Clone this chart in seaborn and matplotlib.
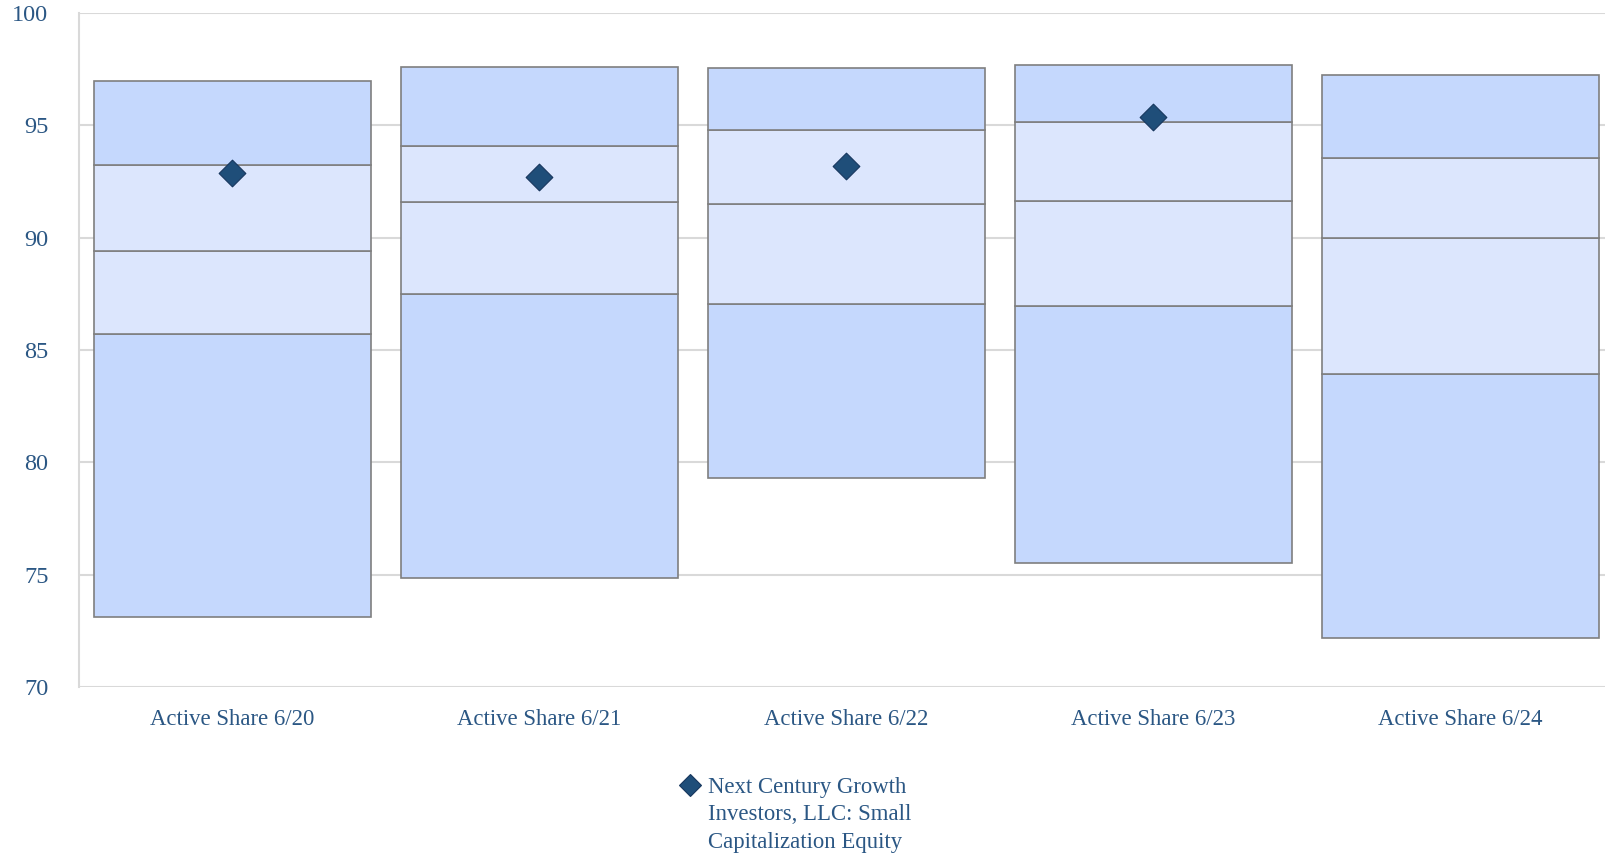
import numpy as np
import pandas as pd
import matplotlib
matplotlib.use("Agg")
import matplotlib.pyplot as plt
import seaborn as sns
from matplotlib.lines import Line2D
from matplotlib.ticker import FixedLocator

# ---- data ----
categories = ["Active Share 6/20", "Active Share 6/21", "Active Share 6/22",
              "Active Share 6/23", "Active Share 6/24"]
range_low = [73.1, 74.86, 79.32, 75.5, 72.2]
quart_25 = [85.73, 87.49, 87.03, 86.98, 83.95]
median = [89.41, 91.59, 91.5, 91.65, 89.98]
quart_75 = [93.23, 94.1, 94.79, 95.15, 93.56]
range_high = [96.97, 97.61, 97.57, 97.67, 97.25]
fund_values = [92.87, 92.69, 93.19, 95.38, np.nan]
legend_label = "Next Century Growth\nInvestors, LLC: Small\nCapitalization Equity"
yticks = [70, 75, 80, 85, 90, 95, 100]

# ---- style ----
sns.set_theme(style="white")
plt.rcParams["font.family"] = ["Liberation Serif", "DejaVu Serif"]
text_color = "#2B5784"
outer_fill = "#C5D8FD"
inner_fill = "#DCE6FD"
edge_col = "#7F7F7F"
grid_col = "#D9D9D9"
diamond_fill = "#1F4E79"
diamond_edge = "#17375E"

W, H = 1606, 856
fig = plt.figure(figsize=(W / 100, H / 100), dpi=100)
ax_left, ax_right, ax_top, ax_bot = 79, 1614, 13, 687
ax = fig.add_axes([ax_left / W, (H - ax_bot) / H, (ax_right - ax_left) / W, (ax_bot - ax_top) / H])

bands = [
    (range_low, quart_25, outer_fill),
    (quart_25, median, inner_fill),
    (median, quart_75, inner_fill),
    (quart_75, range_high, outer_fill),
]
for lo, hi, col in bands:
    df = pd.DataFrame({"cat": categories, "h": np.array(hi) - np.array(lo)})
    sns.barplot(data=df, x="cat", y="h", bottom=np.array(lo), color=col,
                saturation=1, width=0.9, edgecolor=edge_col, linewidth=1.2,
                errorbar=None, ax=ax, zorder=2)

df_pts = pd.DataFrame({"cat": categories, "v": fund_values}).dropna()
sns.scatterplot(data=df_pts, x="cat", y="v", marker="D", s=185, color=diamond_fill,
                edgecolor=diamond_edge, linewidth=0.8, ax=ax, zorder=4, legend=False)

ax.set_xlim(-0.5, 4.5)
ax.set_ylim(70, 100)
ax.set_xlabel("")
ax.set_ylabel("")
ax.set_yticks(yticks)
ax.yaxis.grid(True, color=grid_col, linewidth=1.5, zorder=0)
ax.set_axisbelow(True)
for s in ["top", "right", "bottom"]:
    ax.spines[s].set_visible(False)
ax.spines["left"].set_color(grid_col)
ax.spines["left"].set_linewidth(1.5)

ax.tick_params(axis="y", length=0, pad=22, labelsize=17.5, labelcolor=text_color)
ax.tick_params(axis="x", which="major", length=0, pad=16, labelsize=16.4, labelcolor=text_color)
ax.xaxis.set_minor_locator(FixedLocator([-0.5, 0.5, 1.5, 2.5, 3.5, 4.5]))
ax.tick_params(axis="x", which="minor", length=13, width=1.2, color="#B8C9E0", direction="out")

# legend (drawn manually so the marker aligns with the first text line)
fig.add_artist(Line2D([690 / W], [1 - 785 / H], marker="D", linestyle="none", markersize=11.5,
                      markerfacecolor=diamond_fill, markeredgecolor=diamond_edge,
                      markeredgewidth=0.8, transform=fig.transFigure))
fig.text(708 / W, 1 - 777 / H, legend_label, ha="left", va="top", fontsize=16.4,
         color=text_color, linespacing=1.4)

fig.savefig("out.png", dpi=100)
